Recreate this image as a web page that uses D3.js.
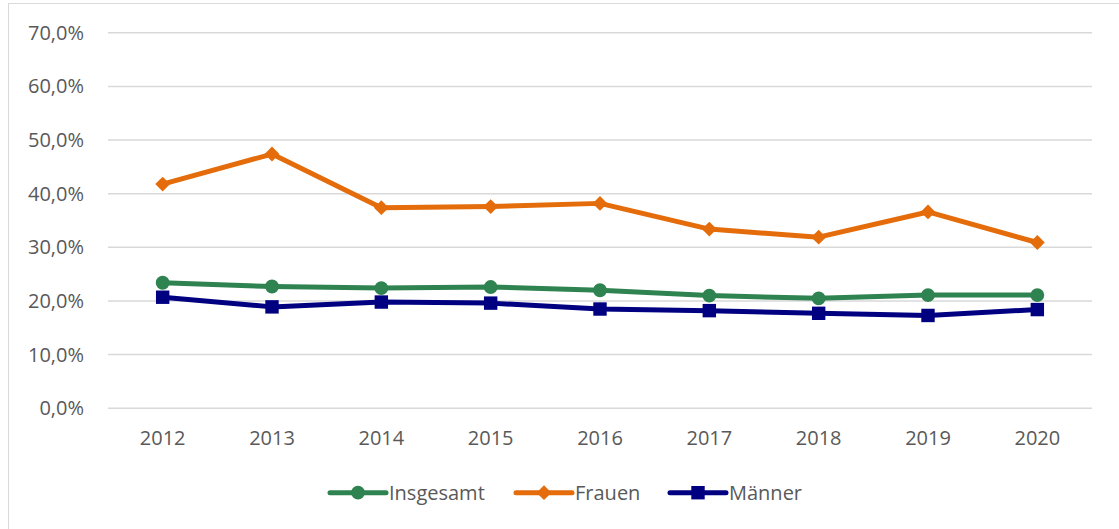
<!DOCTYPE html>
<html><head><meta charset="utf-8">
<script src="https://cdn.jsdelivr.net/npm/d3@7"></script>
<style>body{margin:0;background:#fff}svg{display:block}text{font-family:"Open Sans",sans-serif;fill:#595959}</style>
</head><body><svg id="c" width="1119" height="529"></svg>
<script>
const years = ["2012","2013","2014","2015","2016","2017","2018","2019","2020"];
const insgesamt = [23.3,22.6,22.3,22.5,21.9,20.9,20.4,21.0,21.0];
const frauen = [41.7,47.3,37.3,37.5,38.1,33.3,31.8,36.5,30.8];
const maenner = [20.6,18.8,19.7,19.5,18.4,18.1,17.6,17.2,18.3];
const yTicks = [0,10,20,30,40,50,60,70];
const seriesNames = ["Insgesamt","Frauen","Männer"];
const seriesColors = ["#2E8350","#E46C0A","#000080"];
const seriesShapes = [d3.symbolCircle,d3.symbolSquare,d3.symbolSquare];
const seriesRot = [0,45,0];
const seriesSizes = [150,110,180];
const seriesData = [insgesamt,frauen,maenner];
const FS = "20px";

const svg = d3.select("#c");
svg.append("rect").attr("x",8.5).attr("y",3.5).attr("width",1130).attr("height",540)
  .attr("fill","#fff").attr("stroke","#d9d9d9").attr("stroke-width",1);

const x = d3.scaleBand().domain(years).range([108,1092]);
const y = d3.scaleLinear().domain([0,70]).range([407.7,32.3]);

const fmt = v => d3.format(".1f")(v).replace(".",",")+"%";
const yAxis = svg.append("g").attr("transform","translate(108,0)")
  .call(d3.axisLeft(y).tickValues(yTicks).tickSize(-984).tickFormat(fmt).tickPadding(24));
yAxis.select(".domain").remove();
yAxis.selectAll("line").attr("stroke","#d9d9d9").attr("stroke-width",1.5);
yAxis.selectAll("text").style("font-size",FS).attr("fill","#595959").attr("dy","0.35em");

const xAxis = svg.append("g").attr("transform","translate(0,407.7)")
  .call(d3.axisBottom(x).tickSize(0).tickPadding(23));
xAxis.select(".domain").remove();
xAxis.selectAll("text").style("font-size",FS).attr("fill","#595959");

const cx = i => x(years[i])+x.bandwidth()/2;
const line = d3.line().x((d,i)=>cx(i)).y(d=>y(d));
seriesData.forEach((data,s)=>{
  svg.append("path").datum(data).attr("d",line).attr("fill","none")
    .attr("stroke",seriesColors[s]).attr("stroke-width",5).attr("stroke-linejoin","round");
  svg.selectAll(null).data(data).enter().append("path")
    .attr("d",d3.symbol().type(seriesShapes[s]).size(seriesSizes[s]))
    .attr("transform",(d,i)=>`translate(${cx(i)},${y(d)}) rotate(${seriesRot[s]})`)
    .attr("fill",seriesColors[s]);
});

// legend
const legendX = [330,516,670];
const ly = 492.7;
seriesNames.forEach((n,s)=>{
  const g = svg.append("g");
  g.append("line").attr("x1",legendX[s]).attr("x2",legendX[s]+56).attr("y1",ly).attr("y2",ly)
    .attr("stroke",seriesColors[s]).attr("stroke-width",5).attr("stroke-linecap","round");
  g.append("path").attr("d",d3.symbol().type(seriesShapes[s]).size(seriesSizes[s]))
    .attr("transform",`translate(${legendX[s]+28},${ly}) rotate(${seriesRot[s]})`).attr("fill",seriesColors[s]);
  g.append("text").attr("x",legendX[s]+59).attr("y",ly).attr("dy","0.35em")
    .style("font-size",FS).text(n);
});
</script></body></html>
